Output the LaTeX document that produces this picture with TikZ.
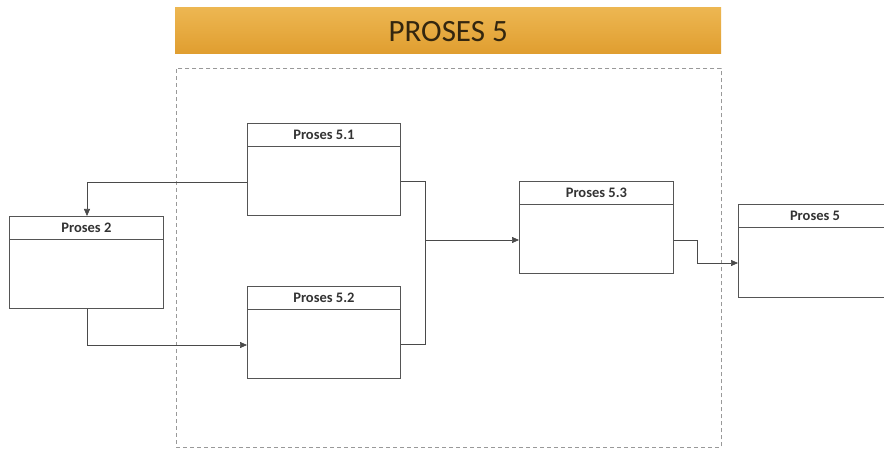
\documentclass[tikz,border=0pt]{standalone}
\usepackage{fontspec}
\setmainfont{Carlito}
\usetikzlibrary{arrows.meta}
\definecolor{bartop}{HTML}{EDB752}
\definecolor{barbot}{HTML}{E09E30}
\definecolor{bartext}{HTML}{33260F}
\definecolor{linec}{HTML}{4A4A4A}
\definecolor{boxc}{HTML}{555555}
\tikzset{
  procbox/.style={draw=boxc, line width=0.8pt, fill=white, rectangle, minimum width=153pt, minimum height=92pt, anchor=north west, inner sep=0pt},
  boxtitle/.style={font=\bfseries\fontsize{14.5}{16}\selectfont, text=black!80, anchor=center, inner sep=0pt},
  conn/.style={draw=linec, line width=0.7pt},
  arr/.style={conn, -{Triangle[length=7pt,width=6pt]}},
}
\begin{document}
\begin{tikzpicture}[x=1pt,y=-1pt]
\useasboundingbox (0,0) rectangle (884,449);
\fill[white] (0,0) rectangle (884,449);
% header bar
\node (bar) [anchor=north west, minimum width=546pt, minimum height=46pt, inner sep=0pt, top color=bartop, bottom color=barbot, draw=none] at (175,7) {};
\node (bartitle) [font=\fontsize{31}{34}\selectfont, text=bartext] at ([yshift=-1pt]bar.center) {PROSES 5};
% dashed frame
\node (frame) [anchor=north west, minimum width=545pt, minimum height=379pt, inner sep=0pt, draw=gray!80, dashed, dash pattern=on 4pt off 3pt, line width=0.7pt] at (176,68) {};
% boxes
\node (p51) [procbox] at (247,123) {};
\node (p2) [procbox, minimum width=154pt] at (9,216) {};
\node (p52) [procbox] at (247,286) {};
\node (p53) [procbox, minimum width=154pt] at (519,181) {};
\node (p5) [procbox, minimum width=160pt, minimum height=93pt] at (738,204) {};
% header lines and titles
\foreach \n in {p51,p2,p52,p53,p5}{
  \draw[draw=boxc, line width=0.8pt] ([yshift=-23.5pt]\n.north west) -- ([yshift=-23.5pt]\n.north east);
}
\node (t51) [boxtitle] at ([yshift=-11.5pt]p51.north) {Proses 5.1};
\node (t2) [boxtitle] at ([yshift=-11.5pt]p2.north) {Proses 2};
\node (t52) [boxtitle] at ([yshift=-11.5pt]p52.north) {Proses 5.2};
\node (t53) [boxtitle] at ([yshift=-11.5pt]p53.north) {Proses 5.3};
\node (t5) [boxtitle] at ([xshift=77pt,yshift=-11.5pt]p5.north west) {Proses 5};
% connectors
\coordinate (a1) at (87,182);
\draw[arr] (p51.west |- a1) -| (p2.north -| a1);
\coordinate (a2) at (87,345);
\draw[arr] (p2.south -| a2) |- (p52.west |- a2);
\coordinate (m) at (425,240);
\draw[conn] (p51.east |- 0,181) -| (m);
\draw[conn] (p52.east |- 0,344) -| (m);
\draw[arr] (m) -- (p53.west |- m);
\coordinate (b1) at (697,240);
\coordinate (b2) at (697,263);
\draw[arr] (p53.east |- b1) -- (b1) -- (b2) -- (p5.west |- b2);
\end{tikzpicture}
\end{document}
